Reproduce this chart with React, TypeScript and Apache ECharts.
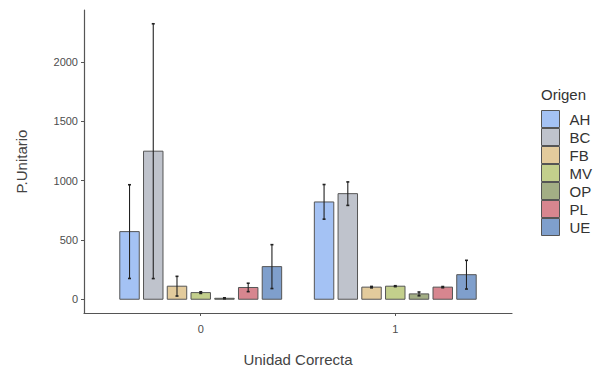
import React, { useEffect, useRef } from "react";
import * as echarts from "echarts";

const categories = ["0", "1"];
const origins = ["AH", "BC", "FB", "MV", "OP", "PL", "UE"];
const colors = ["#a4c2f4", "#bfc3cc", "#e3cb9c", "#c3cf8c", "#a3ae85", "#d7868f", "#7f9fcc"];
// mean per category (0, 1)
const means = [
  [570, 820],
  [1248, 890],
  [110, 102],
  [56, 110],
  [8, 45],
  [99, 102],
  [275, 207],
];
// error bar low per category
const lows = [
  [175, 675],
  [174, 791],
  [27, 96],
  [49, 106],
  [4, 29],
  [64, 97],
  [90, 86],
];
// error bar high per category
const highs = [
  [965, 967],
  [2322, 989],
  [193, 108],
  [63, 114],
  [12, 61],
  [135, 107],
  [460, 328],
];
const yTicks = [0, 500, 1000, 1500, 2000];

const SPACING = 0.122;
const BAR_W = 0.1;

export default function App() {
  const ref = useRef<HTMLDivElement>(null);
  useEffect(() => {
    document.body.style.margin = "0";
    if (!ref.current) return;
    const chart = echarts.init(ref.current, null, { renderer: "svg" });
    const font = "Liberation Sans, Arial, sans-serif";
    const series = origins.map((name, i) => ({
      type: "custom",
      name,
      itemStyle: { color: colors[i], borderColor: "#555555", borderWidth: 1 },
      encode: { x: 0, y: [1, 2, 3] },
      data: categories.map((_, c) => [c + 1, means[i][c], lows[i][c], highs[i][c]]),
      renderItem: (params: any, api: any) => {
        const cat = api.value(0);
        const mean = api.value(1);
        const lo = api.value(2);
        const hi = api.value(3);
        const xc = cat + (i - 3) * SPACING;
        const p0 = api.coord([xc - BAR_W / 2, mean]);
        const p1 = api.coord([xc + BAR_W / 2, 0]);
        const top = api.coord([xc, hi]);
        const bot = api.coord([xc, lo]);
        const cap = 1.5;
        const errStyle = { stroke: "#222222", lineWidth: 1.1 };
        return {
          type: "group",
          children: [
            {
              type: "rect",
              shape: { x: p0[0], y: p0[1], width: p1[0] - p0[0], height: p1[1] - p0[1] },
              style: { fill: colors[i], stroke: "#555555", lineWidth: 1 },
            },
            { type: "line", shape: { x1: top[0], y1: top[1], x2: bot[0], y2: bot[1] }, style: errStyle },
            { type: "line", shape: { x1: top[0] - cap, y1: top[1], x2: top[0] + cap, y2: top[1] }, style: { ...errStyle, lineWidth: 1.6 } },
            { type: "line", shape: { x1: bot[0] - cap, y1: bot[1], x2: bot[0] + cap, y2: bot[1] }, style: { ...errStyle, lineWidth: 1.6 } },
          ],
        };
      },
    }));
    chart.setOption({
      animation: false,
      grid: { left: 84, right: 84, top: 10, bottom: 53 },
      xAxis: {
        type: "value",
        min: 0.4,
        max: 2.6,
        name: "Unidad Correcta",
        nameLocation: "middle",
        nameGap: 39,
        nameTextStyle: { fontFamily: font, fontSize: 15, color: "#444444" },
        splitLine: { show: false },
        axisLine: { show: true, onZero: false, lineStyle: { color: "#555555", width: 1.2 } },
        axisTick: { show: true, length: 3, customValues: [1, 2], lineStyle: { color: "#555555" } },
        axisLabel: {
          customValues: [1, 2],
          formatter: (v: number) => categories[Math.round(v) - 1] ?? "",
          fontFamily: font,
          fontSize: 11,
          color: "#4d4d4d",
          margin: 10,
        },
      },
      yAxis: {
        type: "value",
        min: -116,
        max: 2438,
        name: "P.Unitario",
        nameLocation: "middle",
        nameGap: 55,
        nameTextStyle: { fontFamily: font, fontSize: 15, color: "#444444" },
        splitLine: { show: false },
        axisLine: { show: true, onZero: false, lineStyle: { color: "#555555", width: 1.2 } },
        axisTick: { show: true, length: 3, customValues: yTicks, lineStyle: { color: "#555555" } },
        axisLabel: {
          customValues: yTicks,
          formatter: (v: number) => String(v),
          fontFamily: font,
          fontSize: 11,
          color: "#4d4d4d",
          margin: 6,
        },
      },
      legend: {
        orient: "vertical",
        left: 541,
        top: 110,
        itemWidth: 18,
        itemHeight: 17,
        itemGap: 0,
        padding: 0,
        icon: "rect",
        data: origins,
        itemStyle: { borderColor: "#555555", borderWidth: 1 },
        textStyle: { fontFamily: font, fontSize: 15, color: "#333333", padding: [0, 0, 0, 5] },
      },
      graphic: [
        {
          type: "text",
          left: 541,
          top: 87,
          style: { text: "Origen", font: `15px ${font}`, fill: "#333333" },
        },
      ],
      series,
    });
    return () => chart.dispose();
  }, []);
  return <div ref={ref} style={{ width: 596, height: 372 }} />;
}
